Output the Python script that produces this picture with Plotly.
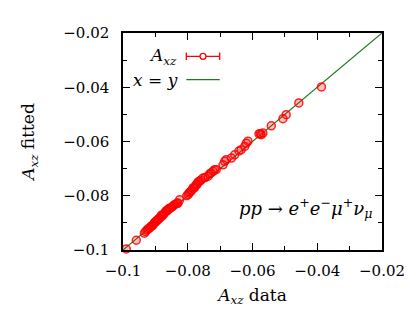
import plotly.graph_objects as go

# A_xz data (x) and fitted (y)
x_data = [-0.0990, -0.0959, -0.0934, -0.0930, -0.0926, -0.0922, -0.0918, -0.0914, -0.0910,
          -0.0907, -0.0903, -0.0901, -0.0898, -0.0895, -0.0892, -0.0889, -0.0886, -0.0882,
          -0.0879, -0.0876, -0.0872, -0.0867, -0.0864, -0.0861, -0.0858, -0.0855, -0.0850,
          -0.0846, -0.0841, -0.0836, -0.0833, -0.0830, -0.0825, -0.0803, -0.0799, -0.0796,
          -0.0793, -0.0789, -0.0784, -0.0781, -0.0778, -0.0774, -0.0771, -0.0768, -0.0763,
          -0.0759, -0.0753, -0.0746, -0.0737, -0.0733, -0.0728, -0.0722, -0.0717, -0.0712,
          -0.0691, -0.0686, -0.0681, -0.0665, -0.0655, -0.0642, -0.0635, -0.0624, -0.0619,
          -0.0614, -0.0580, -0.0576, -0.0573, -0.0568, -0.0542, -0.0506, -0.0496, -0.0457,
          -0.0387]
y_fit = [-0.0996, -0.0964, -0.0938, -0.0932, -0.0926, -0.0922, -0.0919, -0.0913, -0.0911,
         -0.0907, -0.0900, -0.0897, -0.0895, -0.0891, -0.0888, -0.0884, -0.0882, -0.0872,
         -0.0874, -0.0871, -0.0864, -0.0856, -0.0856, -0.0851, -0.0847, -0.0847, -0.0842,
         -0.0839, -0.0833, -0.0830, -0.0828, -0.0827, -0.0815, -0.0800, -0.0796, -0.0790,
         -0.0786, -0.0782, -0.0771, -0.0772, -0.0768, -0.0759, -0.0758, -0.0749, -0.0746,
         -0.0742, -0.0735, -0.0733, -0.0728, -0.0720, -0.0716, -0.0710, -0.0704, -0.0704,
         -0.0686, -0.0673, -0.0667, -0.0661, -0.0649, -0.0635, -0.0630, -0.0618, -0.0606,
         -0.0599, -0.0572, -0.0571, -0.0575, -0.0569, -0.0542, -0.0516, -0.0501, -0.0458,
         -0.0399]
line_xy = [-0.1, -0.02]
tick_vals = [-0.1, -0.08, -0.06, -0.04, -0.02]
tick_text = ["\u22120.1", "\u22120.08", "\u22120.06", "\u22120.04", "\u22120.02"]

FONT = "DejaVu Serif"
FS = 15
FT = 17
RED = "#ff0000"
GREEN = "#1f7a1f"

fig = go.Figure()
fig.add_trace(go.Scatter(x=line_xy, y=line_xy, mode="lines",
                         line=dict(color=GREEN, width=1.2), showlegend=False))
fig.add_trace(go.Scatter(x=x_data, y=y_fit, mode="markers",
                         marker=dict(symbol="circle", size=8, color="rgba(255,0,0,0.25)",
                                     line=dict(width=1.5, color="rgba(255,0,0,0.85)")),
                         showlegend=False, cliponaxis=False))

axis_common = dict(range=[-0.1, -0.02], tickvals=tick_vals, ticktext=tick_text,
                   ticks="inside", ticklen=7, tickwidth=1, tickcolor="black",
                   showline=True, linecolor="black", linewidth=1.5, mirror="allticks",
                   showgrid=False, zeroline=False,
                   minor=dict(ticks="inside", ticklen=4, dtick=0.01, tickcolor="black"),
                   tickfont=dict(family=FONT, size=FS, color="black"))

fig.update_xaxes(**axis_common, ticklabelstandoff=6,
                 title=dict(text="<i>A</i><sub><i>xz</i></sub> data",
                            font=dict(family=FONT, size=FT, color="black"), standoff=10))
fig.update_yaxes(**axis_common, ticklabelstandoff=9,
                 title=dict(text="<i>A</i><sub><i>xz</i></sub> fitted",
                            font=dict(family=FONT, size=FT, color="black"), standoff=24))

W, H = 412, 309
L, R, T, B = 115, 38, 25, 67
pw, ph = W - L - R, H - T - B

def px(xp):
    return (xp - L) / pw

def py(yp):
    return (H - B - yp) / ph

# custom legend (gnuplot style)
y1, y2 = py(48.3), py(71.7)
x0, x1 = px(178.3), px(211.7)
cap = 3.8 / ph
shapes = [
    dict(type="line", xref="paper", yref="paper", x0=x0, x1=x1, y0=y1, y1=y1,
         line=dict(color=RED, width=1.3)),
    dict(type="line", xref="paper", yref="paper", x0=x0, x1=x0, y0=y1 - cap, y1=y1 + cap,
         line=dict(color=RED, width=1.3)),
    dict(type="line", xref="paper", yref="paper", x0=x1, x1=x1, y0=y1 - cap, y1=y1 + cap,
         line=dict(color=RED, width=1.3)),
    dict(type="circle", xref="paper", yref="paper",
         x0=px(195 - 3), x1=px(195 + 3), y0=y1 - 3 / ph, y1=y1 + 3 / ph,
         line=dict(color=RED, width=1.3), fillcolor="white"),
    dict(type="line", xref="paper", yref="paper", x0=x0, x1=x1, y0=y2, y1=y2,
         line=dict(color=GREEN, width=1.3)),
]
annotations = [
    dict(text="<i>A</i><sub><i>xz</i></sub>", xref="paper", yref="paper",
         x=px(171), y=y1, xanchor="right", yanchor="middle", showarrow=False,
         font=dict(family=FONT, size=FT, color="black")),
    dict(text="<i>x</i> = <i>y</i>", xref="paper", yref="paper",
         x=px(172), y=y2, xanchor="right", yanchor="middle", showarrow=False,
         font=dict(family=FONT, size=FT, color="black")),
    dict(text="<i>pp</i> \u2192 <i>e</i><sup>+</sup><i>e</i><sup>\u2212</sup><i>\u03bc</i><sup>+</sup><i>\u03bd</i><sub><i>\u03bc</i></sub>",
         xref="paper", yref="paper", x=px(366), y=py(200), xanchor="right", yanchor="middle",
         showarrow=False, font=dict(family=FONT, size=18, color="black")),
]

fig.update_layout(width=W, height=H, margin=dict(l=L, r=R, t=T, b=B),
                  paper_bgcolor="white", plot_bgcolor="white",
                  font=dict(family=FONT, size=FS, color="black"),
                  shapes=shapes, annotations=annotations, showlegend=False)

fig.write_html("out.html")
